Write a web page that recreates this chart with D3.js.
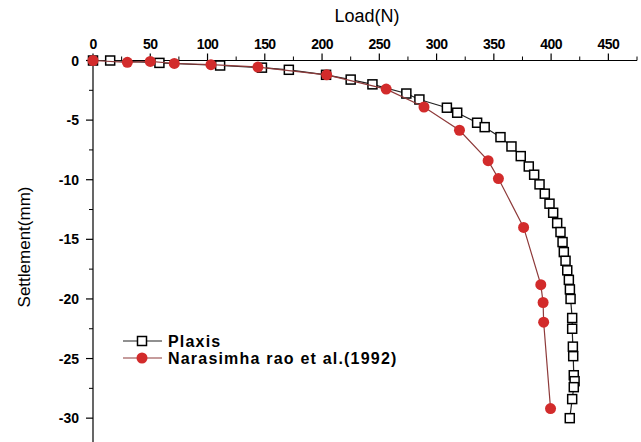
<!DOCTYPE html>
<html>
<head>
<script src="https://d3js.org/d3.v7.min.js"></script>
<style>
  body { margin: 0; background: #fff; font-family: Arial, "Liberation Sans", sans-serif; }
</style>
</head>
<body>
<svg id="chart" width="641" height="442"></svg>
<script>
// Plaxis results (load N, settlement mm)
var plaxisLoad = [0, 15, 58, 111, 147.5, 171, 203.5, 225, 244, 273.6, 285, 309, 318, 335.4, 342, 355.8,
  365.4, 373.5, 380.5, 385.2, 389.9, 394.5, 398.6, 401.8, 405.3, 408.2, 410, 411.1, 412.6, 414.1,
  415.5, 416.4, 417, 418.4, 418.4, 419, 419.3, 419.8, 420.5, 419.8, 418.4, 416.3];
var plaxisSettle = [0, 0, -0.2, -0.42, -0.6, -0.78, -1.2, -1.6, -2.0, -2.77, -3.27, -3.96, -4.38, -5.22, -5.59, -6.43,
  -7.21, -8.02, -8.89, -9.58, -10.39, -11.17, -12.01, -12.77, -13.64, -14.39, -15.23, -16.07, -16.8, -17.6,
  -18.4, -19.2, -20.0, -21.6, -22.5, -24.0, -24.8, -26.4, -26.9, -27.4, -28.4, -30.0];

// Narasimha rao et al. (1992)
var raoLoad = [0, 30, 50, 71, 103, 144, 204, 256, 289, 320, 345, 354, 376, 391, 393, 393.5, 399.5];
var raoSettle = [0, -0.15, -0.08, -0.25, -0.35, -0.55, -1.2, -2.4, -3.9, -5.85, -8.4, -9.9, -14.0, -18.8, -20.3, -21.95, -29.2];

var xTicks = [0, 50, 100, 150, 200, 250, 300, 350, 400, 450];
var yTicks = [0, -5, -10, -15, -20, -25, -30];
var seriesNames = ["Plaxis", "Narasimha rao et al.(1992)"];

var svg = d3.select("#chart");

var x = d3.scaleLinear().domain([0, 475]).range([93, 637]);
var y = d3.scaleLinear().domain([0, -32]).range([60.5, 442]);

// minor ticks
var xMinor = d3.range(25, 476, 50);
var yMinor = d3.range(-2.5, -32, -5);

var topAxis = svg.append("g").attr("transform", "translate(0," + y(0) + ")");
topAxis.append("line").attr("x1", x(0)).attr("x2", x(475)).attr("stroke", "#000").attr("stroke-width", 1.2);
topAxis.selectAll(".maj").data(xTicks).enter().append("line")
  .attr("x1", function(d) { return x(d); }).attr("x2", function(d) { return x(d); })
  .attr("y1", 0).attr("y2", -7).attr("stroke", "#000").attr("stroke-width", 1.2);
topAxis.selectAll(".min").data(xMinor).enter().append("line")
  .attr("x1", function(d) { return x(d); }).attr("x2", function(d) { return x(d); })
  .attr("y1", 0).attr("y2", -4).attr("stroke", "#000").attr("stroke-width", 1);
topAxis.selectAll("text").data(xTicks).enter().append("text")
  .attr("x", function(d) { return x(d); }).attr("y", -12)
  .attr("text-anchor", "middle").attr("font-size", 14).attr("font-weight", "bold")
  .attr("letter-spacing", -0.6)
  .text(function(d) { return d; });

var leftAxis = svg.append("g").attr("transform", "translate(" + x(0) + ",0)");
leftAxis.append("line").attr("y1", y(0)).attr("y2", y(-32)).attr("stroke", "#000").attr("stroke-width", 1.2);
leftAxis.selectAll(".maj").data(yTicks).enter().append("line")
  .attr("y1", function(d) { return y(d); }).attr("y2", function(d) { return y(d); })
  .attr("x1", 0).attr("x2", -7).attr("stroke", "#000").attr("stroke-width", 1.2);
leftAxis.selectAll(".min").data(yMinor).enter().append("line")
  .attr("y1", function(d) { return y(d); }).attr("y2", function(d) { return y(d); })
  .attr("x1", 0).attr("x2", -4).attr("stroke", "#000").attr("stroke-width", 1);
leftAxis.selectAll("text").data(yTicks).enter().append("text")
  .attr("x", -14).attr("y", function(d) { return y(d); }).attr("dy", "0.36em")
  .attr("text-anchor", "end").attr("font-size", 14).attr("font-weight", "bold")
  .text(function(d) { return d; });

svg.append("text").attr("x", 367).attr("y", 22).attr("text-anchor", "middle")
  .attr("font-size", 18).text("Load(N)");
svg.append("text").attr("transform", "translate(30,247) rotate(-90)").attr("text-anchor", "middle")
  .attr("font-size", 17).text("Settlement(mm)");

var line = d3.line().x(function(d) { return x(d[0]); }).y(function(d) { return y(d[1]); });

var plaxis = d3.zip(plaxisLoad, plaxisSettle);
var rao = d3.zip(raoLoad, raoSettle);

svg.append("path").datum(plaxis).attr("d", line)
  .attr("fill", "none").attr("stroke", "#222").attr("stroke-width", 1.2);
svg.selectAll(".sq").data(plaxis).enter().append("rect")
  .attr("x", function(d) { return x(d[0]) - 4.5; }).attr("y", function(d) { return y(d[1]) - 4.5; })
  .attr("width", 9).attr("height", 9)
  .attr("fill", "#fff").attr("stroke", "#000").attr("stroke-width", 1.5);

svg.append("path").datum(rao).attr("d", line)
  .attr("fill", "none").attr("stroke", "#8e3a3a").attr("stroke-width", 1.2);
svg.selectAll(".dot").data(rao).enter().append("circle")
  .attr("cx", function(d) { return x(d[0]); }).attr("cy", function(d) { return y(d[1]); })
  .attr("r", 5.5).attr("fill", "#d22b2b");

// legend
var legend = svg.append("g");
var ly = [341, 358];
legend.append("line").attr("x1", 123).attr("x2", 162).attr("y1", ly[0]).attr("y2", ly[0])
  .attr("stroke", "#222").attr("stroke-width", 1.2);
legend.append("rect").attr("x", 137.5).attr("y", ly[0] - 4.5).attr("width", 9).attr("height", 9)
  .attr("fill", "#fff").attr("stroke", "#000").attr("stroke-width", 1.5);
legend.append("line").attr("x1", 123).attr("x2", 162).attr("y1", ly[1]).attr("y2", ly[1])
  .attr("stroke", "#8e3a3a").attr("stroke-width", 1.2);
legend.append("circle").attr("cx", 142).attr("cy", ly[1]).attr("r", 5.5).attr("fill", "#d22b2b");
legend.selectAll("text").data(seriesNames).enter().append("text")
  .attr("x", 168).attr("y", function(d, i) { return ly[i] + 6; })
  .attr("font-size", 16).attr("font-weight", "bold").attr("letter-spacing", 1.2)
  .text(function(d) { return d; });
</script>
</body>
</html>
